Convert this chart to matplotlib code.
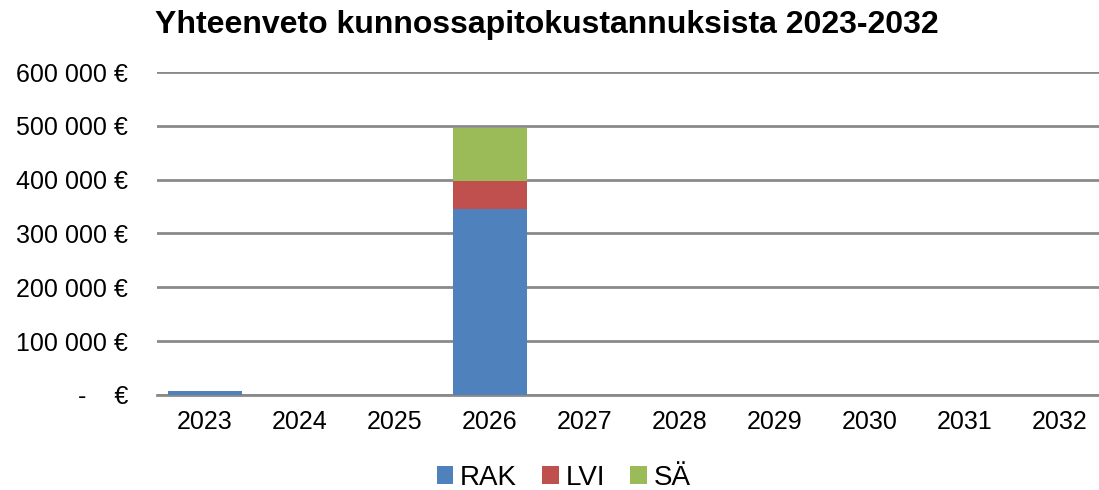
import matplotlib
matplotlib.use("Agg")
import matplotlib.pyplot as plt
import numpy as np
from matplotlib.ticker import FuncFormatter

plt.rcParams['font.family'] = ['Liberation Sans', 'DejaVu Sans']

years = ["2023", "2024", "2025", "2026", "2027", "2028", "2029", "2030", "2031", "2032"]
rak = [7000, 0, 0, 345000, 0, 0, 0, 0, 0, 0]
lvi = [0, 0, 0, 53000, 0, 0, 0, 0, 0, 0]
sa = [0, 0, 0, 98000, 0, 0, 0, 0, 0, 0]
series_names = ["RAK", "LVI", "SÄ"]
colors = ["#4F81BD", "#C0504D", "#9BBB59"]
title = "Yhteenveto kunnossapitokustannuksista 2023-2032"

fig = plt.figure(figsize=(10.99, 4.90), dpi=100)
ax = fig.add_axes([0.1433, 0.194, 0.864, 0.659])

x = np.arange(len(years))
w = 0.78
bottom = np.zeros(len(years))
for vals, name, c in zip([rak, lvi, sa], series_names, colors):
    ax.bar(x, vals, w, bottom=bottom, color=c, label=name, zorder=3)
    bottom += np.array(vals)

ax.set_xlim(-0.5, len(years) - 0.5)
ax.set_ylim(0, 600000)
ax.set_yticks(np.arange(0, 600001, 100000))

def fmt(v, pos):
    if v == 0:
        return "-    €"
    return f"{int(v):,}".replace(",", " ") + " €"

ax.yaxis.set_major_formatter(FuncFormatter(fmt))
ax.set_xticks(x)
ax.set_xticklabels(years)
ax.tick_params(axis='both', length=0, labelsize=18, colors='black')
ax.tick_params(axis='y', pad=21)
ax.tick_params(axis='x', pad=11)
ax.grid(axis='y', color='#8a8a8a', linewidth=2, zorder=0)
for s in ['top', 'right', 'left']:
    ax.spines[s].set_visible(False)
ax.spines['bottom'].set_color('#8a8a8a')
ax.spines['bottom'].set_linewidth(2)

fig.text(0.141, 0.948, title, fontsize=23, fontweight='bold', ha='left', va='center')

leg = fig.legend(loc='center', bbox_to_anchor=(0.513, 0.025), ncol=3, frameon=False,
                 fontsize=20, handlelength=0.6, handleheight=0.6, handletextpad=0.25,
                 columnspacing=0.9)

fig.savefig("out.png", dpi=100)
